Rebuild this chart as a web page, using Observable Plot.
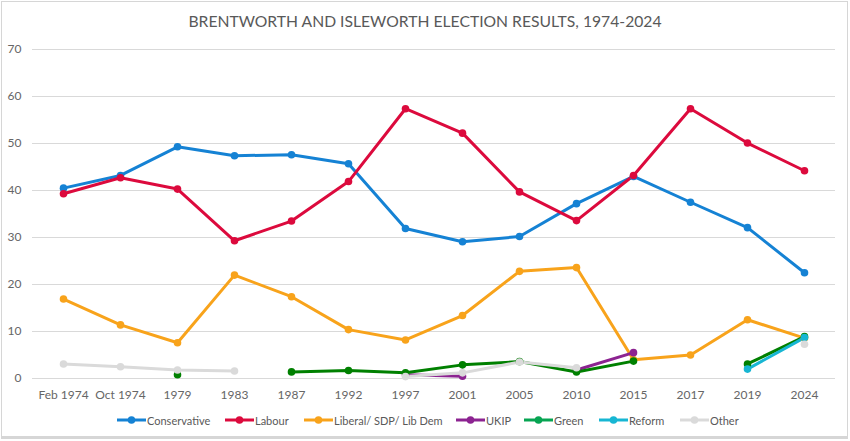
<!DOCTYPE html>
<html>
<head>
<meta charset="utf-8">
<script src="https://cdn.jsdelivr.net/npm/d3@7"></script>
<script src="https://cdn.jsdelivr.net/npm/@observablehq/plot@0.6"></script>
<style>
  html, body { margin: 0; padding: 0; background: #fff; }
  #wrap { position: relative; width: 850px; height: 441px; overflow: hidden; font-family: Lato, "Open Sans", sans-serif; }
  #frame { position: absolute; left: 1px; top: 1px; width: 845px; height: 434px; border: 1.5px solid #d6d6d6; border-bottom-width: 3px; box-sizing: content-box; }
  #title { position: absolute; left: 0; width: 850px; top: 12px; text-align: center; font-size: 15.7px; color: #595959; }
  #chart { position: absolute; left: 0; top: 0; }
  #legend { position: absolute; top: 411px; left: 0; width: 850px; height: 18px; font-size: 11px; color: #595959; }
  .item { position: absolute; top: 0; display: flex; align-items: center; height: 18px; }
  .item svg { margin-right: 1px; }
</style>
</head>
<body>
<div id="wrap">
  <div id="frame"></div>
  <div id="title">BRENTWORTH AND ISLEWORTH ELECTION RESULTS, 1974-2024</div>
  <div id="chart"></div>
  <div id="legend"></div>
</div>
<script>
const years = ["Feb 1974","Oct 1974","1979","1983","1987","1992","1997","2001","2005","2010","2015","2017","2019","2024"];
const seriesNames = ["Conservative","Labour","Liberal/ SDP/ Lib  Dem","UKIP","Green","Reform","Other"];
const seriesColors = ["#1582d4","#dc0a3d","#f8a31b","#8c2391","#07a452","#17b6d3","#dadada"];
const conservative = [40.5,43.2,49.3,47.4,47.6,45.7,31.9,29.1,30.2,37.2,43.0,37.5,32.1,22.5];
const labour       = [39.3,42.7,40.3,29.3,33.5,41.9,57.4,52.2,39.7,33.6,43.2,57.4,50.1,44.2];
const libdem       = [16.9,11.4,7.6,22.0,17.4,10.4,8.2,13.4,22.8,23.6,4.0,5.0,12.5,8.6];
const ukip         = [null,null,null,null,null,null,0.8,0.5,null,1.8,5.5,null,null,null];
const green        = [null,null,0.8,null,1.4,1.7,1.2,2.9,3.6,1.4,3.7,null,3.1,8.9];
const reform       = [null,null,null,null,null,null,null,null,null,null,null,null,2.0,8.7];
const other        = [3.1,2.5,1.8,1.6,null,null,0.4,1.2,3.5,2.3,null,null,null,7.3];
const yTicks = [0,10,20,30,40,50,60,70];

const seriesValues = [conservative, labour, libdem, ukip, green, reform, other];
const rows = [];
seriesNames.forEach((name, si) => {
  years.forEach((yr, i) => {
    rows.push({series: name, year: yr, value: seriesValues[si][i] == null ? NaN : seriesValues[si][i]});
  });
});

const W = 850, H = 410;
const chart = Plot.plot({
  width: W,
  height: H,
  marginLeft: 32,
  marginRight: 15,
  marginTop: 49,
  marginBottom: 32,
  style: {fontFamily: "Lato, 'Open Sans', sans-serif", fontSize: "12px", color: "#595959", background: "transparent"},
  x: {type: "point", domain: years, padding: 0.5, label: null, tickSize: 0, tickPadding: 11},
  y: {domain: [0, 70], ticks: yTicks, label: null, tickSize: 0, tickPadding: 11},
  color: {domain: seriesNames, range: seriesColors},
  marks: [
    Plot.gridY(yTicks, {stroke: "#d9d9d9", strokeOpacity: 1, strokeWidth: 1}),
    Plot.axisY(yTicks, {tickSize: 0, tickPadding: 11, label: null, fill: "#666666"}),
    Plot.axisX({tickSize: 0, tickPadding: 12, label: null, fill: "#666666"}),
    ...seriesNames.map(name => Plot.line(rows.filter(d => d.series === name), {
      x: "year", y: "value", stroke: "series", strokeWidth: 3, strokeLinejoin: "round", strokeLinecap: "round"
    })),
    ...seriesNames.map(name => Plot.dot(rows.filter(d => d.series === name), {
      x: "year", y: "value", fill: "series", r: 3.8, stroke: null
    }))
  ]
});
document.getElementById("chart").appendChild(chart);

// legend
const legendX = [117, 225, 304, 456, 524, 599, 680];
const leg = document.getElementById("legend");
seriesNames.forEach((name, i) => {
  const it = document.createElement("div");
  it.className = "item";
  it.style.left = legendX[i] + "px";
  it.innerHTML = `<svg width="29" height="10"><line x1="0" y1="5" x2="29" y2="5" stroke="${seriesColors[i]}" stroke-width="3"/><circle cx="14.5" cy="5" r="3.8" fill="${seriesColors[i]}"/></svg><span>${name}</span>`;
  leg.appendChild(it);
});
</script>
</body>
</html>
